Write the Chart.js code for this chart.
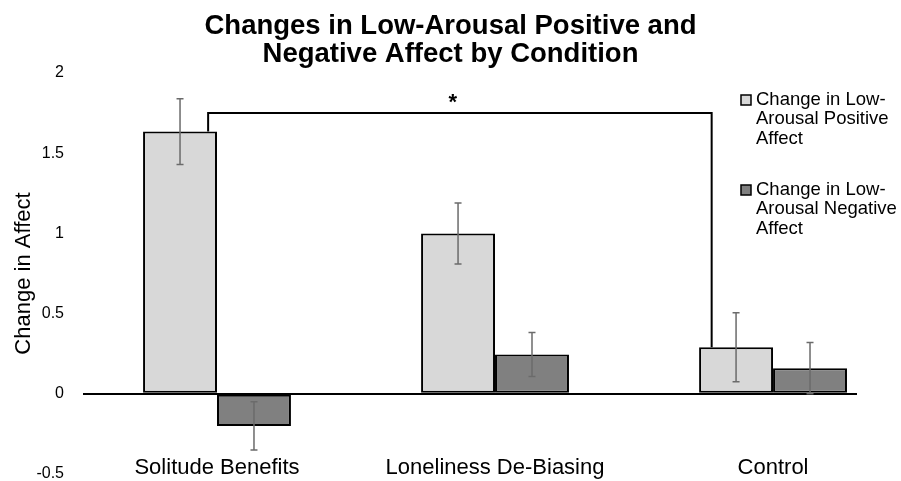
<!DOCTYPE html>
<html>
<head>
<meta charset="utf-8">
<script src="https://cdn.jsdelivr.net/npm/chart.js@4.4.1/dist/chart.umd.min.js"></script>
<style>
  html, body { margin: 0; padding: 0; background: #fff; }
  #wrap { width: 901px; height: 481px; }
</style>
</head>
<body>
<div id="wrap"><canvas id="affectChart" width="901" height="481"></canvas></div>
<script>
// categorías y valores
const conditions = ["Solitude Benefits", "Loneliness De-Biasing", "Control"];
const positiveChange = [1.635, 1.0, 0.29];
const negativeChange = [-0.2, 0.245, 0.16];
const positiveError = [0.205, 0.19, 0.215];
const negativeError = [0.15, 0.137, 0.16];
const yTicks = [-0.5, 0, 0.5, 1, 1.5, 2];

const positiveLabelLines = ["Change in Low-", "Arousal Positive", "Affect"];
const negativeLabelLines = ["Change in Low-", "Arousal Negative", "Affect"];

const titleLines = ["Changes in Low-Arousal Positive and", "Negative Affect by Condition"];
const yAxisTitle = "Change in Affect";

// corchete de significancia: Solitude (positivo) vs Control (positivo)
const sigPair = [0, 2];
const sigLevel = 1.75;
const sigMark = "*";

const FONT = "'Liberation Sans', Arial, Helvetica, sans-serif";

function toPoints(values) {
    return values.map((v, i) => ({ x: i, y: v }));
}

const errorBarsPlugin = {
    id: "errorBars",
    afterDatasetsDraw(chart) {
        const ctx = chart.ctx;
        const yScale = chart.scales.y;
        const errors = [positiveError, negativeError];
        ctx.save();
        ctx.strokeStyle = "#6b6b6b";
        ctx.lineWidth = 1.5;
        chart.data.datasets.forEach((ds, di) => {
            const meta = chart.getDatasetMeta(di);
            meta.data.forEach((bar, i) => {
                const v = ds.data[i].y;
                const e = errors[di][i];
                const top = yScale.getPixelForValue(v + e);
                const bottom = yScale.getPixelForValue(v - e);
                const x = bar.x;
                ctx.beginPath();
                ctx.moveTo(x, top);
                ctx.lineTo(x, bottom);
                ctx.moveTo(x - 3.5, top);
                ctx.lineTo(x + 3.5, top);
                ctx.moveTo(x - 3.5, bottom);
                ctx.lineTo(x + 3.5, bottom);
                ctx.stroke();
            });
        });
        ctx.restore();
    },
};

const bracketPlugin = {
    id: "sigBracket",
    afterDatasetsDraw(chart) {
        const ctx = chart.ctx;
        const meta = chart.getDatasetMeta(0);
        const a = meta.data[sigPair[0]];
        const b = meta.data[sigPair[1]];
        const yTop = chart.scales.y.getPixelForValue(sigLevel);
        const x1 = a.x + a.width * 0.38;
        const x2 = b.x - b.width * 0.33;
        ctx.save();
        ctx.strokeStyle = "#000";
        ctx.lineWidth = 2;
        ctx.beginPath();
        ctx.moveTo(x1, a.y);
        ctx.lineTo(x1, yTop);
        ctx.lineTo(x2, yTop);
        ctx.lineTo(x2, b.y);
        ctx.stroke();
        ctx.fillStyle = "#000";
        ctx.font = "bold 22px " + FONT;
        ctx.textAlign = "center";
        ctx.textBaseline = "middle";
        ctx.fillText(sigMark, (x1 + x2) / 2 - 7, yTop - 10);
        ctx.restore();
    },
};

const sideLegendPlugin = {
    id: "sideLegend",
    afterDraw(chart) {
        const ctx = chart.ctx;
        const items = [positiveLabelLines, negativeLabelLines];
        const startY = [100, 190];
        ctx.save();
        ctx.font = "18.5px " + FONT;
        ctx.textBaseline = "middle";
        ctx.textAlign = "left";
        items.forEach((lines, di) => {
            const ds = chart.data.datasets[di];
            const y0 = startY[di];
            ctx.fillStyle = ds.backgroundColor;
            ctx.strokeStyle = "#000";
            ctx.lineWidth = 1.5;
            ctx.fillRect(741, y0 - 5, 10, 10);
            ctx.strokeRect(741, y0 - 5, 10, 10);
            ctx.fillStyle = "#000";
            lines.forEach((line, li) => {
                ctx.fillText(line, 756, y0 + li * 19.3);
            });
        });
        ctx.restore();
    },
};

new Chart(document.getElementById("affectChart").getContext("2d"), {
    type: "bar",
    data: {
        datasets: [
            {
                label: positiveLabelLines.join(" "),
                data: toPoints(positiveChange),
                backgroundColor: "#d8d8d8",
                borderColor: "#000",
                borderWidth: 2,
                borderSkipped: false,
                categoryPercentage: 0.532,
                barPercentage: 1,
            },
            {
                label: negativeLabelLines.join(" "),
                data: toPoints(negativeChange),
                backgroundColor: "#808080",
                borderColor: "#000",
                borderWidth: 2,
                borderSkipped: false,
                categoryPercentage: 0.532,
                barPercentage: 1,
            },
        ],
    },
    options: {
        responsive: false,
        animation: false,
        layout: { padding: 0 },
        plugins: {
            legend: { display: false },
            tooltip: { enabled: false },
            title: {
                display: true,
                text: titleLines,
                color: "#000",
                font: { family: FONT, size: 27.5, weight: "bold", lineHeight: 1.0 },
                padding: { top: 13, bottom: 5 },
            },
        },
        scales: {
            x: {
                type: "linear",
                offset: false,
                min: -0.482,
                max: 2.302,
                grid: { display: false },
                border: { display: false },
                afterBuildTicks: (scale) => {
                    scale.ticks = conditions.map((_, i) => ({ value: i }));
                },
                afterFit: (scale) => {
                    scale.height = 7;
                },
                ticks: {
                    autoSkip: false,
                    maxRotation: 0,
                    mirror: true,
                    padding: -7,
                    color: "#000",
                    font: { family: FONT, size: 22 },
                    callback: (value) => conditions[value],
                },
            },
            y: {
                min: -0.5,
                max: 2,
                afterBuildTicks: (scale) => {
                    scale.ticks = yTicks.map((v) => ({ value: v }));
                },
                afterFit: (scale) => {
                    scale.width = 83;
                    scale.paddingTop = 0;
                    scale.paddingBottom = 0;
                },
                border: { display: false },
                grid: {
                    drawTicks: false,
                    lineWidth: 2,
                    color: (c) => (c.tick && c.tick.value === 0 ? "#000" : "rgba(0,0,0,0)"),
                },
                ticks: {
                    padding: 19,
                    color: "#000",
                    font: { family: FONT, size: 16 },
                    callback: (value) => String(value),
                },
                title: {
                    display: true,
                    text: yAxisTitle,
                    color: "#000",
                    font: { family: FONT, size: 22 },
                    padding: { top: 11, bottom: 0 },
                },
            },
            // eje vacío a la derecha: deja sitio a la leyenda sin descentrar el título
            spacer: {
                type: "linear",
                position: "right",
                display: true,
                grid: { display: false },
                border: { display: false },
                ticks: { display: false },
                afterFit: (scale) => {
                    scale.width = 44;
                },
            },
        },
    },
    plugins: [errorBarsPlugin, bracketPlugin, sideLegendPlugin],
});
</script>
</body>
</html>
